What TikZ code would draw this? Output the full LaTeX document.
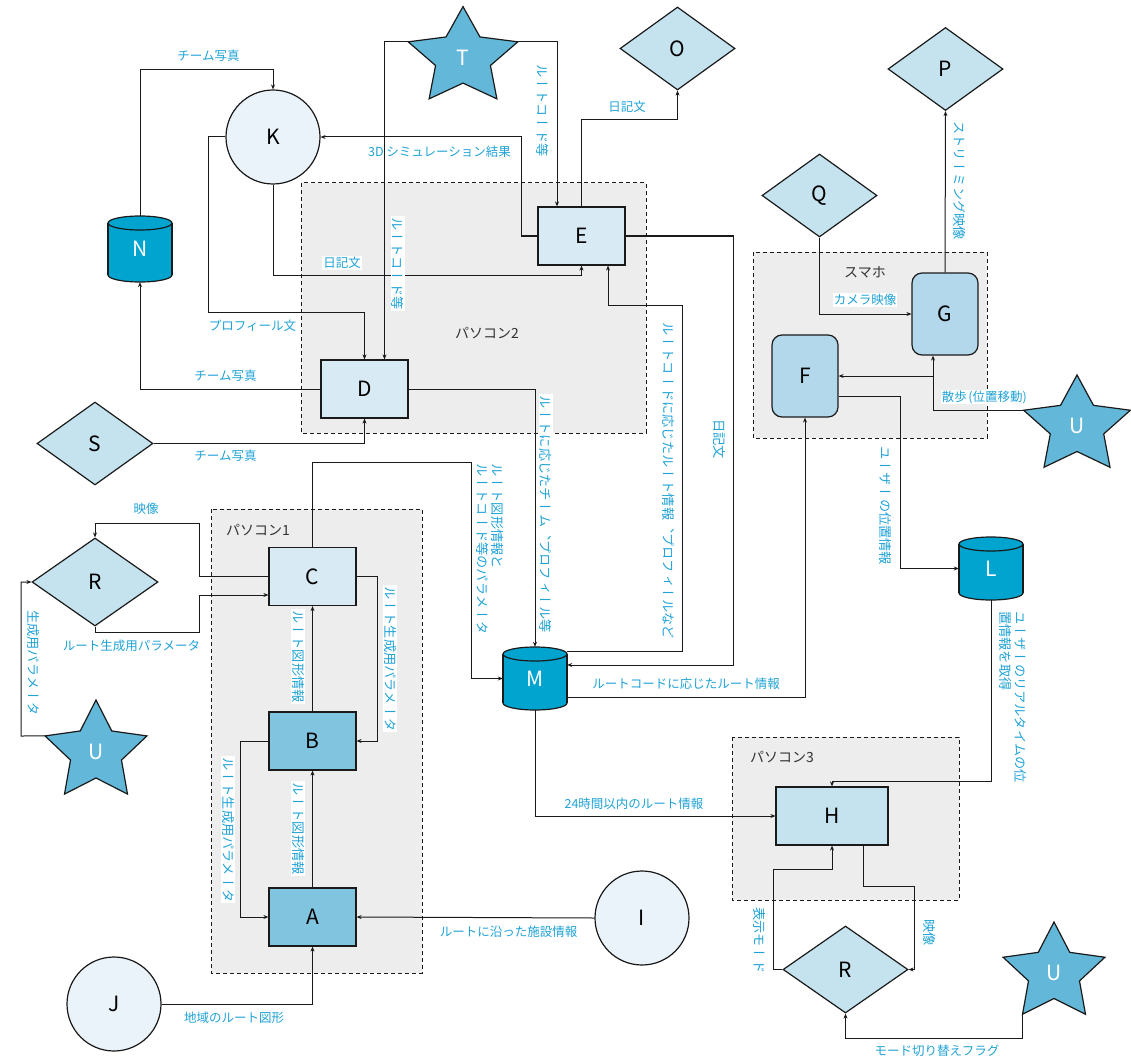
\documentclass[tikz,border=0pt]{standalone}
\usepackage{fontspec}
\newfontfamily\jp{Noto Sans CJK JP}
\newfontfamily\vjp[Vertical=RotatedGlyphs]{Noto Sans CJK JP}
\usetikzlibrary{shapes.geometric,arrows.meta,calc}
\definecolor{labc}{HTML}{1FA2D6}
\definecolor{linec}{HTML}{1A1A1A}
\definecolor{lightc}{HTML}{D8EAF4}
\definecolor{diac}{HTML}{C5E2EF}
\definecolor{circc}{HTML}{EBF3FA}
\definecolor{rboxc}{HTML}{B3D8EB}
\definecolor{midc}{HTML}{80C4DF}
\definecolor{starc}{HTML}{63B8D9}
\definecolor{cylc}{HTML}{00A4CF}
\definecolor{grpc}{HTML}{EDEDED}
\definecolor{darkc}{HTML}{333333}
\newcommand{\drawstar}[6]{% name, text, cx, cy, R, sx
  \draw[starsh] ({#3},{#4-#5}) -- ({#3+0.294*#6*#5},{#4-0.405*#5}) -- ({#3+0.951*#6*#5},{#4-0.309*#5}) -- ({#3+0.476*#6*#5},{#4+0.155*#5}) -- ({#3+0.588*#6*#5},{#4+0.809*#5}) -- ({#3},{#4+0.5*#5}) -- ({#3-0.588*#6*#5},{#4+0.809*#5}) -- ({#3-0.476*#6*#5},{#4+0.155*#5}) -- ({#3-0.951*#6*#5},{#4-0.309*#5}) -- ({#3-0.294*#6*#5},{#4-0.405*#5}) -- cycle;
  \node[startxt] (#1) at ({#3},{#4}) {#2};
  \coordinate (#1-L) at ({#3-0.951*#6*#5},{#4-0.309*#5});
  \coordinate (#1-R) at ({#3+0.951*#6*#5},{#4-0.309*#5});
  \coordinate (#1-BL) at ({#3-0.588*#6*#5},{#4+0.809*#5});
}
\newcommand{\drawcyl}[6]{% name, text, cx, top, bottom, height
  \filldraw[cylsh] ({#3},{#5-7}) ellipse [x radius=32, y radius=7];
  \fill[cylc] ({#3-32},{#4+7}) rectangle ({#3+32},{#5-7});
  \draw[draw=linec, line width=1.2pt] ({#3-32},{#4+7}) -- ({#3-32},{#5-7}) ({#3+32},{#4+7}) -- ({#3+32},{#5-7});
  \filldraw[cylsh] ({#3},{#4+7}) ellipse [x radius=32, y radius=7];
  \node[cyltxt, minimum height=#6] (#1) at ({#3},{(#4+#5)/2}) {#2};
}
\begin{document}
\begin{tikzpicture}[x=1pt,y=-1pt,
  nodefont/.style={font=\jp\fontsize{21}{24}\selectfont},
  box/.style={draw=linec, line width=1.2pt, minimum width=87, minimum height=58, inner sep=0, nodefont},
  rbox/.style={box, rounded corners=10pt, fill=rboxc, minimum width=66, minimum height=82},
  dia/.style={diamond, draw=linec, line width=1.2pt, fill=diac, inner sep=0, aspect=1.4, minimum width=115, minimum height=83, nodefont},
  circ/.style={circle, draw=linec, line width=1.2pt, fill=circc, minimum size=94, inner sep=0, nodefont},
  starsh/.style={draw=linec, line width=1.2pt, fill=starc, line join=miter},
  startxt/.style={text=white, inner sep=0, nodefont},
  cylsh/.style={draw=linec, line width=1.2pt, fill=cylc},
  cyltxt/.style={text=white, inner sep=0, minimum width=64, nodefont},
  lab/.style={text=labc, font=\jp\fontsize{12.5}{14}\selectfont, inner sep=1pt},
  labw/.style={lab, fill=white},
  vlab/.style={text=labc, font=\vjp\fontsize{13.2}{15}\selectfont, inner sep=1pt, rotate=-90, anchor=west, align=left},
  vlabw/.style={vlab, fill=white},
  grp/.style={draw=linec, dash pattern=on 4pt off 3pt, fill=grpc, line width=1pt},
  grplab/.style={text=darkc, font=\jp\fontsize{14}{16}\selectfont},
  conn/.style={draw=linec, line width=1pt, -{Stealth[length=5pt,width=4pt]}}
]
\useasboundingbox (0,0) rectangle (1131,1059);
% groups
\draw[grp] (301,183) rectangle (646,433);
\draw[grp] (211,509) rectangle (422,973);
\draw[grp] (753,252) rectangle (987,438);
\draw[grp] (732,737) rectangle (959,900);
\node[grplab] (g2) at (487,333) {パソコン2};
\node[grplab] (g1) at (258,530) {パソコン1};
\node[grplab] (gs) at (865,272) {スマホ};
\node[grplab] (g3) at (782,757) {パソコン3};
% nodes
\node[box, fill=lightc] (E) at (581.5,236) {E};
\node[box, fill=lightc] (D) at (364.5,389) {D};
\node[box, fill=lightc] (C) at (312.5,576.5) {C};
\node[box, fill=midc] (B) at (312.5,741) {B};
\node[box, fill=midc] (A) at (312.5,917) {A};
\node[box, fill=diac, minimum width=112] (H) at (832,816) {H};
\node[rbox] (G) at (945,314) {G};
\node[rbox] (F) at (805,376) {F};
\node[circ] (K) at (273,137) {K};
\node[circ] (I) at (642,918) {I};
\node[circ] (J) at (114,1004) {J};
\node[dia] (O) at (677.5,48.5) {O};
\node[dia] (P) at (945.5,69) {P};
\node[dia] (Q) at (819.5,195.5) {Q};
\node[dia, minimum width=116] (S) at (95,443.5) {S};
\node[dia, minimum width=126, minimum height=88] (R1) at (95,582) {R};
\node[dia, minimum width=125, minimum height=87] (R2) at (845.5,969.5) {R};
\drawcyl{N}{N}{140}{216}{282}{66}
\drawcyl{M}{M}{535}{647}{710}{63}
\drawcyl{L}{L}{991}{537}{600}{63}
\drawstar{T}{T}{463}{57.6}{51}{1.13}
\drawstar{UR}{U}{1077}{426}{51}{1.1}
\drawstar{UL}{U}{96}{752}{52}{1.03}
\drawstar{UB}{U}{1054}{973}{51}{1.05}
% connectors
\draw[conn] (N.north) -- (140,70) -| (K.north);
\draw[conn] (D.west) -| (N.south);
\draw[conn] (S.east) -| (D.south);
\draw[conn] (K.west) -| (208,312) -| (D.north);
\draw[conn] (T-L) -| ([xshift=20pt]D.north);
\draw[conn] (T-R) -| ([xshift=-24.5pt]E.north);
\draw[conn] (E.west) -- (521,236) |- (K.east);
\draw[conn] (K.south) |- (581.5,275) -- (E.south);
\draw[conn] (E.north) |- (677.5,120) -- (O.south);
\draw[conn] (D.east) -| (M.north);
\draw[conn] ([yshift=-5pt]M.north east) -| (682,305) -| ([xshift=26.5pt]E.south);
\draw[conn] (E.east) -| (733,665) -- ([yshift=13.5pt]M.east);
\draw[conn] ([yshift=-19pt]M.east) -| (F.south);
\draw[conn] (C.north) |- (471,462) |- (M.west);
\draw[conn] (UL-L) -- (21,736) |- (R1.west);
\draw[conn] (R1.south) |- (199,632) |- ([yshift=-18.5pt]C.west);
\draw[conn] (C.west) -| (199,523) -| (R1.north);
\draw[conn] (C.east) -- (377,576.5) |- (B.east);
\draw[conn] (B.north) -- (C.south);
\draw[conn] (B.west) -- (240,741) |- (A.west);
\draw[conn] (A.north) -- (B.south);
\draw[conn] (I.west) -- (A.east);
\draw[conn] (J.east) -| (A.south);
\draw[conn] (M.south) |- (H.west);
\draw[conn] (L.south) |- (832,781) -- (H.north);
\draw[conn] ([yshift=-20pt]F.east) -| (900,568.5) -- (L.west);
\draw[conn] (UR-L) -| ([xshift=-12pt]G.south);
\draw[conn] (933,376) -- (F.east);
\draw[conn] (Q.south) |- (G.west);
\draw[conn] (G.north) -- (P.south);
\draw[conn] (R2.west) -- (773,969.5) |- (832,869) -- (H.south);
\draw[conn] ([xshift=31pt]H.south) |- (914,886) |- (R2.east);
\draw[conn] (UB-BL) |- (845.5,1038) -- (R2.south);
% labels
\node[lab] (l1) at (208.5,56) {チーム写真};
\node[lab] (l2) at (439.5,152) {3D シミュレーション結果};
\node[labw] (l3) at (342,263) {日記文};
\node[lab] (l4) at (627,107) {日記文};
\node[vlab] (l5) at (543,63) {ルートコード等};
\node[vlabw] (l6) at (398,216) {ルートコード等};
\node[lab] (l7) at (252.5,326) {プロフィール文};
\node[lab] (l8) at (225.5,376) {チーム写真};
\node[lab] (l9) at (225.5,456) {チーム写真};
\node[vlabw] (l10) at (546,394) {ルートに応じたチーム、プロフィール等};
\node[vlab] (l11) at (668,321) {ルートコードに応じたルート情報、プロフィールなど};
\node[vlab] (l12) at (719,418) {日記文};
\node[vlab] (l13) at (490.5,462) {ルート図形情報と\\ルートコード等のパラメータ};
\node[lab] (l14) at (686,684) {ルートコードに応じたルート情報};
\node[lab] (l15) at (634,804) {24時間以内のルート情報};
\node[lab] (l16) at (508.5,932) {ルートに沿った施設情報};
\node[lab] (l17) at (234,1018) {地域のルート図形};
\node[lab] (l18) at (146,509) {映像};
\node[lab] (l19) at (131.5,646) {ルート生成用パラメータ};
\node[vlab] (l20) at (33,609) {生成用パラメータ};
\node[vlabw] (l21) at (390,585) {ルート生成用パラメータ};
\node[vlabw] (l22) at (298,609) {ルート図形情報};
\node[vlabw] (l23) at (228,756) {ルート生成用パラメータ};
\node[vlabw] (l24) at (298,781) {ルート図形情報};
\node[vlab] (l25) at (959,120) {ストリーミング映像};
\node[labw] (l26) at (865,300) {カメラ映像};
\node[labw] (l27) at (985,397) {散歩\kern1.5pt(位置移動)\kern1.5pt};
\node[vlab] (l28) at (885,445) {ユーザーの位置情報};
\node[vlab] (l29) at (1012.5,610) {ユーザーのリアルタイムの位\\置情報を取得};
\node[vlab] (l30) at (760,906) {表示モード};
\node[vlab] (l31) at (929,918) {映像};
\node[lab] (l32) at (937,1051) {モード切り替えフラグ};
\end{tikzpicture}
\end{document}
